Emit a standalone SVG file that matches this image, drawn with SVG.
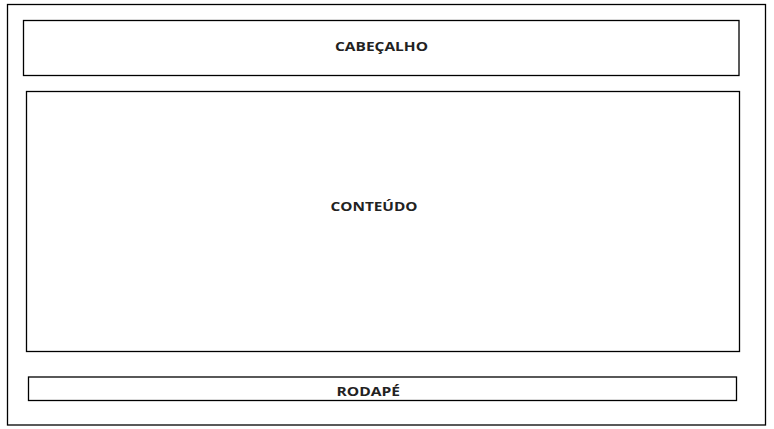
<svg xmlns="http://www.w3.org/2000/svg" width="774" height="429" viewBox="0 0 774 429">
<style>
.box{fill:#fff;stroke:#000;stroke-width:1.3}
.lbl{font-family:"Open Sans","Liberation Sans",sans-serif;font-weight:bold;font-size:13px;fill:#222;text-anchor:middle}
</style>
<rect x="0" y="0" width="774" height="429" fill="#fff"/>
<g id="page"><rect class="box" x="7.5" y="4.5" width="758" height="420.5"/></g>
<g id="cabecalho"><rect class="box" x="23.5" y="20.5" width="715.5" height="55"/><text class="lbl" x="381.5" y="51" textLength="93" lengthAdjust="spacingAndGlyphs">CABEÇALHO</text></g>
<g id="conteudo"><rect class="box" x="26.5" y="91.5" width="713" height="260"/><text class="lbl" x="374" y="211" textLength="87" lengthAdjust="spacingAndGlyphs">CONTEÚDO</text></g>
<g id="rodape"><rect class="box" x="28.5" y="377" width="708" height="23.5"/><text class="lbl" x="368.3" y="396" textLength="63.5" lengthAdjust="spacingAndGlyphs">RODAPÉ</text></g>
<g id="connectors"/>
</svg>
